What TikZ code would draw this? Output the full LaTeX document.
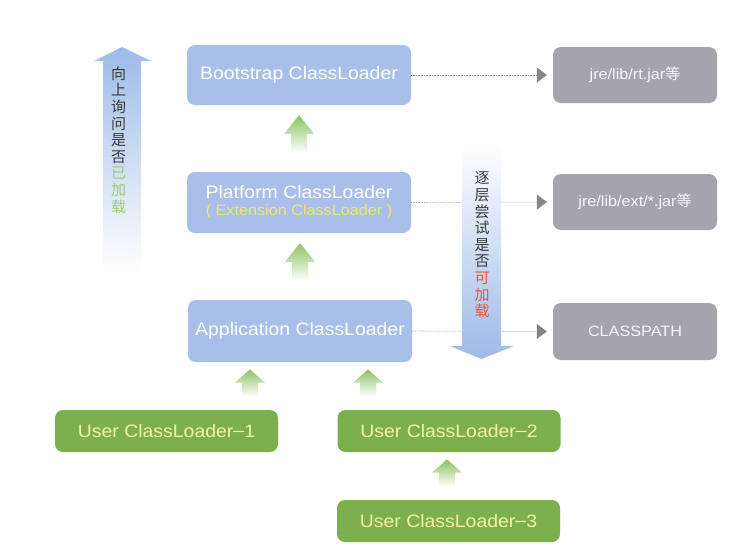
\documentclass[tikz,border=0pt]{standalone}
\usepackage{fontspec}
\setmainfont{Liberation Sans}[FakeStretch=1.08]
\newfontfamily\cjk{Noto Sans CJK SC}
\usetikzlibrary{arrows.meta,calc}

\definecolor{loaderblue}{HTML}{A8C0E9}
\definecolor{usergreen}{HTML}{7CB04F}
\definecolor{usertext}{HTML}{F4F2A6}
\definecolor{pathgray}{HTML}{A5A4AC}
\definecolor{extyellow}{HTML}{F3E56B}
\definecolor{liftgreen}{HTML}{8CC262}
\definecolor{flowblue}{HTML}{9DBAE8}
\definecolor{askgreen}{HTML}{9BCB72}
\definecolor{tryred}{HTML}{EE5535}
\definecolor{inkgray}{HTML}{3A3A3A}
\definecolor{linkgray}{HTML}{858585}

% green block arrow pointing from #1 (lower node) up to #2 (upper node),
% shifted sideways by #3 from the upper node's centre; its parts are
% proportional to the free gap between the two boxes
\newcommand{\liftarrow}[3]{%
  \shade[top color=liftgreen, bottom color=white]
    let \p1=($(#2.south)+(#3,0)$), \p2=(#1.north), \n1={\y1-\y2} in
    (\x1,\y1-0.15*\n1) -- (\x1+15pt,\y1-0.43*\n1) -- (\x1+8pt,\y1-0.43*\n1)
    -- (\x1+8pt,\y2+0.28*\n1) -- (\x1-8pt,\y2+0.28*\n1) -- (\x1-8pt,\y1-0.43*\n1)
    -- (\x1-15pt,\y1-0.43*\n1) -- cycle;}

\begin{document}
\begin{tikzpicture}[x=1pt,y=-1pt,
  box/.style={rounded corners=8pt, inner sep=0pt, align=center,
    font=\fontsize{18}{18}\selectfont},
  loader/.style={box, fill=loaderblue, text=white,
    minimum width=224pt, minimum height=60pt},
  userbox/.style={box, fill=usergreen, text=usertext,
    minimum width=223pt, minimum height=42pt},
  source/.style={box, fill=pathgray, text=white!94!gray,
    minimum width=164pt, minimum height=56pt,
    font=\fontsize{15}{18}\selectfont},
  link/.style={draw=linkgray, line width=0.6pt, densely dotted,
    -{Triangle[length=10pt,width=15pt]}, shorten >=6pt},
  vtext/.style={align=center, text=inkgray, inner sep=0pt,
    font=\cjk\fontsize{15}{16.6}\selectfont}]

\useasboundingbox[fill=white] (0,0) rectangle (744,549);

% class loaders
\node[loader] (boot) at (299,75) {Bootstrap ClassLoader};
\node[loader, minimum height=61pt] (plat) at (299,202.5)
  {Platform ClassLoader\\[-1pt]{\fontsize{15}{15}\selectfont\color{extyellow}( Extension ClassLoader )}};
\node[loader, minimum height=62pt] (app) at (300,331) {Application ClassLoader};

% what each loader reads
\node[source] (rt) at (635,75) {jre/lib/rt.jar{\cjk 等}};
\node[source] (ext) at (635,202) {jre/lib/ext/*.jar{\cjk 等}};
\node[source, minimum height=57pt] (cp) at (635,331.5) {CLASSPATH};

% user-defined loaders
\node[userbox] (u1) at (166.5,431) {User ClassLoader{\raisebox{0.5pt}{--}}1};
\node[userbox] (u2) at (449,431) {User ClassLoader{\raisebox{0.5pt}{--}}2};
\node[userbox] (u3) at (448.5,521) {User ClassLoader{\raisebox{0.5pt}{--}}3};

% dotted links to the sources
\draw[link] (boot.east) -- (rt.west);
\draw[link] (plat.east) -- (ext.west);
\draw[link] (app.east) -- (cp.west);

% parent delegation arrows
\liftarrow{plat}{boot}{0}
\liftarrow{app}{plat}{1}
\liftarrow{u1}{app}{-50}
\liftarrow{u2}{app}{68}
\liftarrow{u3}{u2}{-2}

% upward query arrow
\shade[top color=flowblue, bottom color=white]
  (122,47) -- (151,61) -- (141,61) -- (141,272) -- (103,272) -- (103,61)
  -- (94,61) -- cycle;
\node[vtext] (ask) at (118.5,140)
  {向\\上\\询\\问\\是\\否\\{\color{askgreen}已}\\{\color{askgreen}加}\\{\color{askgreen}载}};

% downward loading arrow
\shade[top color=white, bottom color=flowblue]
  (462,143) -- (501,143) -- (501,346) -- (514,346) -- (481.5,359)
  -- (450,346) -- (462,346) -- cycle;
\node[vtext] (try) at (482,245)
  {逐\\层\\尝\\试\\是\\否\\{\color{tryred}可}\\{\color{tryred}加}\\{\color{tryred}载}};
\end{tikzpicture}
\end{document}
